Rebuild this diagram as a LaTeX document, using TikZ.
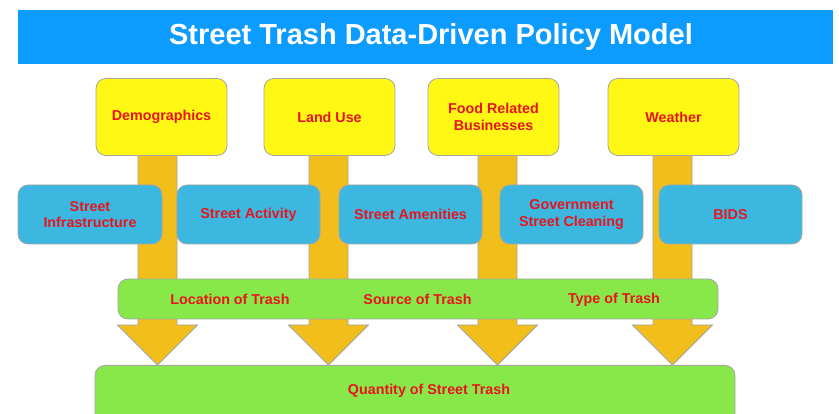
\documentclass[tikz,border=0pt]{standalone}
\usepackage{fontspec}
\setmainfont{Liberation Sans}
\definecolor{titleblue}{RGB}{12,156,255}
\definecolor{ybox}{RGB}{255,247,20}
\definecolor{bbox}{RGB}{60,184,224}
\definecolor{gbox}{RGB}{136,232,74}
\definecolor{arr}{RGB}{242,190,28}
\definecolor{edge}{RGB}{165,165,165}
\definecolor{txt}{RGB}{232,20,30}
\tikzset{
  base/.style={rounded corners=10pt, draw=edge, line width=0.8pt, align=center,
    font=\fontsize{14.3}{16.5}\selectfont\bfseries, text=txt, inner sep=0pt},
  ybx/.style={base, fill=ybox, minimum width=131pt, minimum height=77pt},
  bbx/.style={base, fill=bbox, minimum width=143pt, minimum height=59pt},
  gbx/.style={base, fill=gbox},
  lbl/.style={font=\fontsize{14.3}{16.5}\selectfont\bfseries, text=txt, inner sep=0pt},
  fat/.style={fill=arr, draw=edge, line width=0.8pt, line join=miter},
}
\begin{document}
\begin{tikzpicture}[x=1pt,y=-1pt]
\clip (0,0) rectangle (839,414);
\fill[white] (0,0) rectangle (839,414);
% title
\node[fill=titleblue, minimum width=815pt, minimum height=54pt, inner sep=0pt] (titlebar) at (425.5,37) {};
\node[inner sep=0pt, text=white, font=\fontsize{29}{32}\selectfont\bfseries] (title) at (431,37.5)
  {Street Trash Data-Driven Policy Model};
% fat arrows (shafts and heads)
\foreach \c/\n in {157.5/1, 328.5/2, 497.5/3, 672.5/4}{
  \draw[fat] (\c-19.5,150) -- (\c-19.5,325) -- (\c-40,325) -- (\c,365) -- (\c+40,325)
    -- (\c+19.5,325) -- (\c+19.5,150) -- cycle;
  \coordinate (tip\n) at (\c,365);
}
% yellow boxes
\node[ybx] (demo) at (161.5,117) {Demographics};
\node[ybx] (land) at (329.5,117) {Land Use};
\node[ybx] (food) at (493.5,117) {Food Related\\Businesses};
\node[ybx] (weather) at (673.5,117) {Weather};
% blue boxes
\node[bbx, minimum width=144pt] (infra) at (90,214.5) {Street\\Infrastructure};
\node[bbx] (activity) at (248.5,214.5) {Street Activity};
\node[bbx] (amen) at (410.5,214.5) {Street Amenities};
\node[bbx] (gov) at (571.5,214.5) {Government\\Street Cleaning};
\node[bbx] (bids) at (730.5,214.5) {BIDS};
% green band
\node[gbx, minimum width=600pt, minimum height=40pt] (band) at (418,299) {};
\node[lbl] (loc) at (230,299.5) {Location of Trash};
\node[lbl] (src) at (417.5,299.5) {Source of Trash};
\node[lbl] (type) at (614,299.5) {Type of Trash};
% bottom box
\node[gbx, minimum width=640pt, minimum height=60pt, anchor=north] (qty) at (415,365) {};
\node[lbl] (qtylbl) at (429,391) {Quantity of Street Trash};
\end{tikzpicture}
\end{document}
